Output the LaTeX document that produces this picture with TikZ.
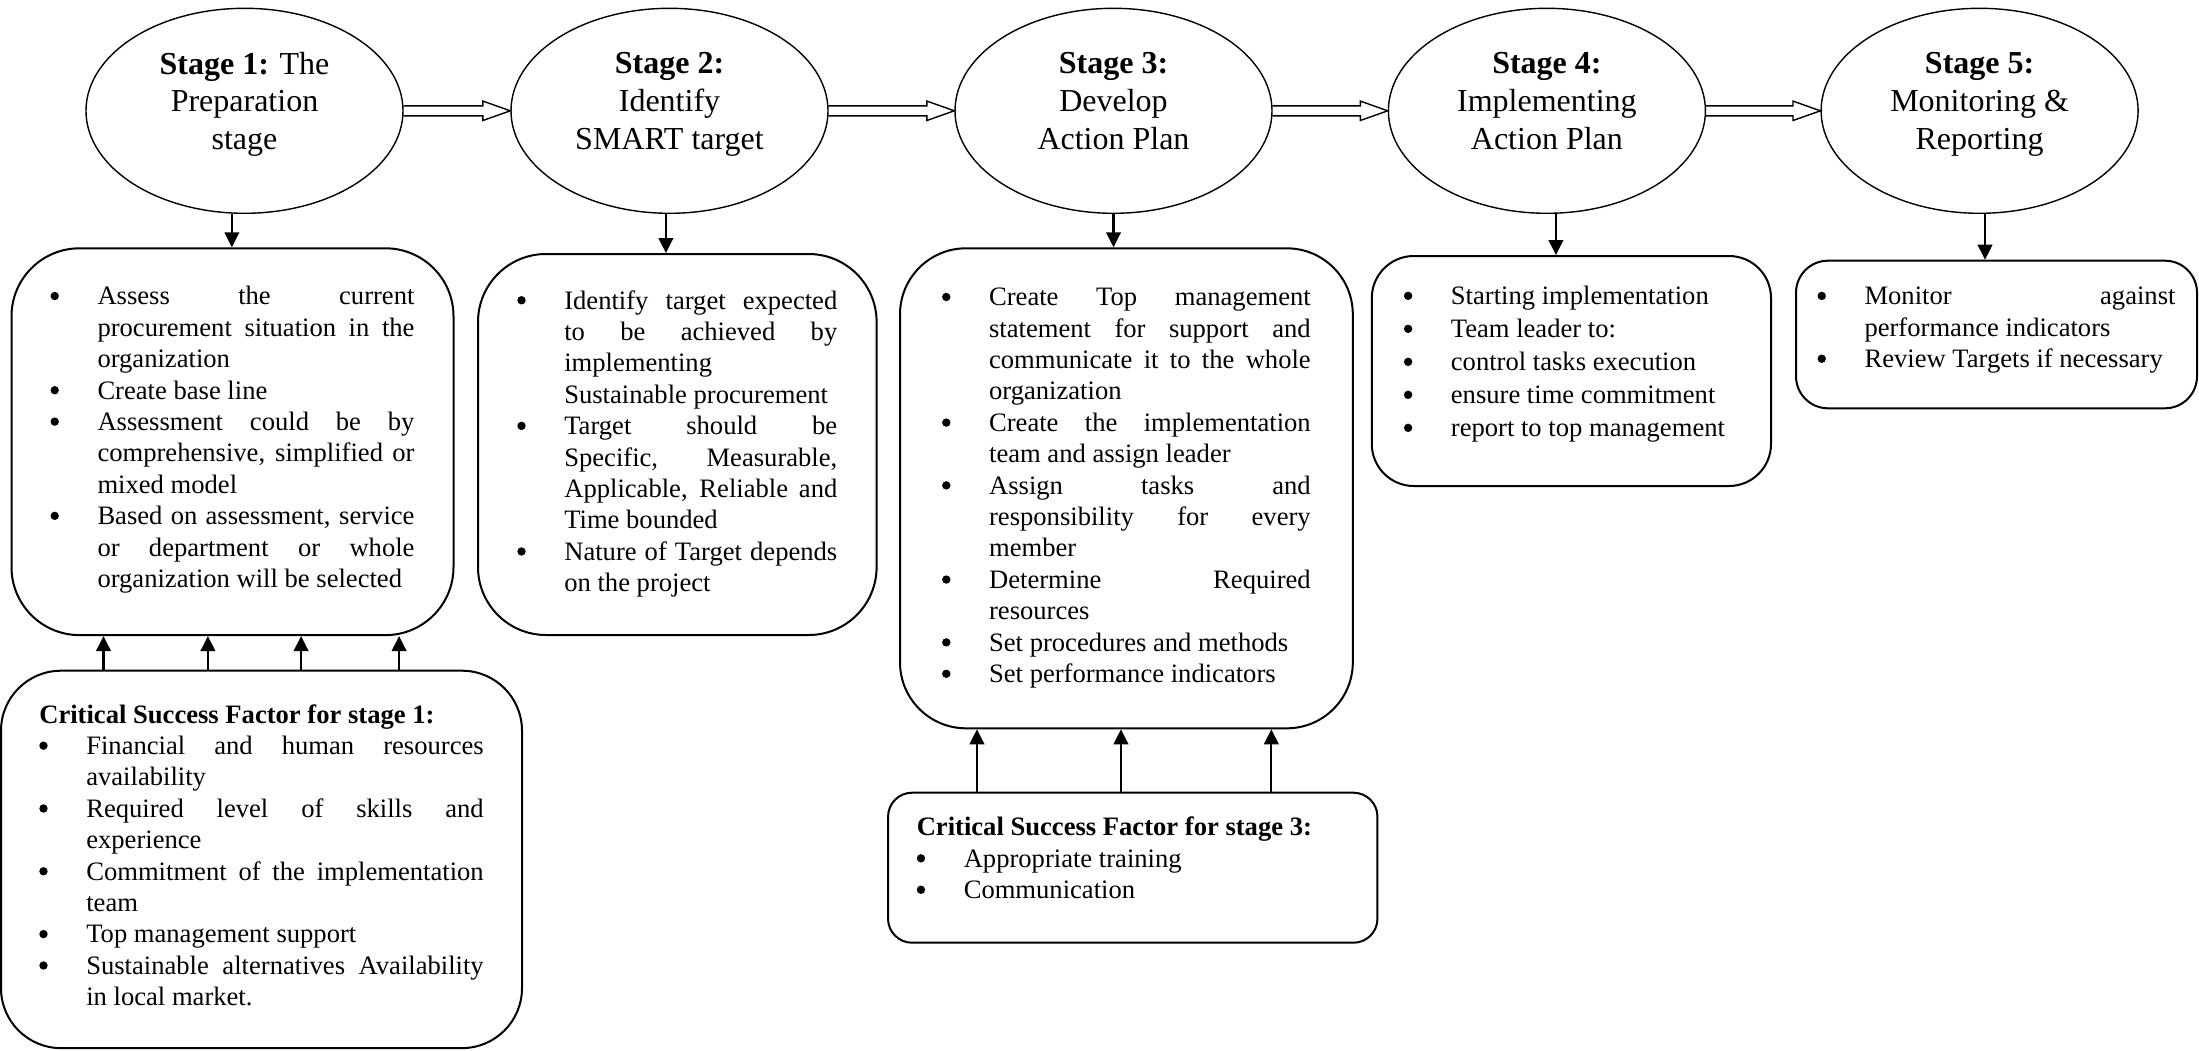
\documentclass[tikz,border=0pt]{standalone}
\usepackage{fontspec}
\setmainfont{Liberation Serif}
\usetikzlibrary{shapes.geometric,arrows.meta}

% bullet line with hanging indent
\newcommand{\bdot}{\tikz[baseline=0pt]\fill (2.1pt,4.4pt) circle[radius=2.1pt];}
\newcommand{\bitem}{\par\hangindent=23.5pt\hangafter=1\noindent\makebox[23.5pt][l]{\bdot}\ignorespaces}
% empty space under the last line
\newcommand{\tailspace}[1]{\par\vspace{#1}\hrule height 0pt width 0pt\relax}

% open double arrow between two stages
\newcommand{\hollowarrow}[2]{%
  \draw[line width=0.7pt] ([yshift=2.5pt]#1.east) -- ([xshift=-13.7pt,yshift=2.5pt]#2.west)
    -- ++(0,2.35pt) -- (#2.west) -- ++(-13.7pt,-4.85pt) -- ++(0,2.35pt)
    -- ([yshift=-2.5pt]#1.east);}

\begin{document}
\begin{tikzpicture}[x=0.5pt, y=-0.5pt,
    stage/.style={ellipse, draw, line width=0.7pt, minimum width=158.5pt,
      minimum height=102.5pt, inner sep=0pt, align=center, text depth=10pt,
      font=\fontsize{16}{18.9}\selectfont},
    task/.style={draw, line width=1pt, align=justify,
      font=\fontsize{13.3}{15.7}\selectfont},
    down/.style={line width=1.1pt, -{Triangle[length=7.5pt,width=7.3pt]}}]
    \useasboundingbox (0,0) rectangle (2199,1050);

    % Stages
    \node[stage] (s1) at (244.5,110.8) {\textbf{Stage 1:} The\\Preparation\\stage};
    \node[stage] (s2) at (669.5,110.8) {\textbf{Stage 2:}\\Identify\\SMART target};
    \node[stage] (s3) at (1113.5,110.8) {\textbf{Stage 3:}\\Develop\\Action Plan};
    \node[stage] (s4) at (1546.9,110.8) {\textbf{Stage 4:}\\Implementing\\Action Plan};
    \node[stage] (s5) at (1979.6,110.8) {\textbf{Stage 5:}\\Monitoring \&\\Reporting};

    \hollowarrow{s1}{s2}
    \hollowarrow{s2}{s3}
    \hollowarrow{s3}{s4}
    \hollowarrow{s4}{s5}

    % Tasks of each stage
    \node[task, rounded corners=34pt, minimum width=221pt, minimum height=193.4pt,
      text width=182pt] (b1) at (232.5,441.7) {%
      \bitem Assess the current\linebreak procurement situation in the\linebreak organization
      \bitem Create base line
      \bitem Assessment could be by\linebreak comprehensive, simplified or\linebreak mixed model
      \bitem Based on assessment, service\linebreak or department or whole\linebreak organization will be selected
      \tailspace{8.4pt}};
    \node[task, rounded corners=34pt, minimum width=199.3pt, minimum height=190.5pt,
      text width=160pt] (b2) at (677.3,444.5) {%
      \bitem Identify target expected\linebreak to be achieved by\linebreak implementing\newline Sustainable procurement
      \bitem Target should be\linebreak Specific, Measurable,\linebreak Applicable, Reliable and\linebreak Time bounded
      \bitem Nature of Target depends\linebreak on the project
      \tailspace{7pt}};
    \node[task, rounded corners=33pt, minimum width=226.4pt, minimum height=240pt,
      text width=184.3pt] (b3) at (1126.4,488.3) {%
      \bitem Create Top management\linebreak statement for support and\linebreak communicate it to the whole\linebreak organization
      \bitem Create the implementation\linebreak team and assign leader
      \bitem Assign tasks and\linebreak responsibility for every\linebreak member
      \bitem Determine Required\linebreak resources
      \bitem Set procedures and methods
      \bitem Set performance indicators
      \tailspace{7pt}};
    \node[task, rounded corners=21pt, minimum width=199.6pt, minimum height=115pt,
      text width=167.5pt, font=\fontsize{13.3}{16.5}\selectfont] (b4) at (1571.4,371) {%
      \bitem Starting implementation
      \bitem Team leader to:
      \bitem control tasks execution
      \bitem ensure time commitment
      \bitem report to top management
      \tailspace{14pt}};
    \node[task, rounded corners=16pt, minimum width=200.5pt, minimum height=73.8pt,
      text width=179pt] (b5) at (1996.5,334.5) {%
      \bitem Monitor against\linebreak performance indicators
      \bitem Review Targets if necessary
      \tailspace{11.2pt}};

    % Critical success factors
    \node[task, rounded corners=30pt, minimum width=260.5pt, minimum height=188.7pt,
      text width=222.2pt] (c1) at (261.5,859.4) {%
      \textbf{Critical Success Factor for stage 1:}
      \bitem Financial and human resources\linebreak availability
      \bitem Required level of skills and\linebreak experience
      \bitem Commitment of the implementation\linebreak team
      \bitem Top management support
      \bitem Sustainable alternatives Availability\linebreak in local market.
      \tailspace{4.2pt}};
    \node[task, rounded corners=12pt, minimum width=244.7pt, minimum height=75pt,
      text width=216pt] (c3) at (1132.75,867.7) {%
      \textbf{Critical Success Factor for stage 3:}
      \bitem Appropriate training
      \bitem Communication
      \tailspace{9.8pt}};

    % Stage to tasks
    \draw[down] (s1.263) -- (b1.north -| s1.263);
    \draw[down] (s2.268) -- (b2.north -| s2.268);
    \draw[down] (s3.270) -- (b3.north -| s3.270);
    \draw[down] (s4.275) -- (b4.north -| s4.275);
    \draw[down] (s5.273) -- (b5.north -| s5.273);

    % Factors to tasks
    \foreach \dx in {-79,-26.8,19.8,68.8}
      \draw[down] ([xshift=\dx pt]c1.north) -- ([xshift=\dx pt]c1.north |- b1.south);
    \foreach \dx in {-77.9,-5.9,69.3}
      \draw[down] ([xshift=\dx pt]c3.north) -- ([xshift=\dx pt]c3.north |- b3.south);
\end{tikzpicture}
\end{document}
